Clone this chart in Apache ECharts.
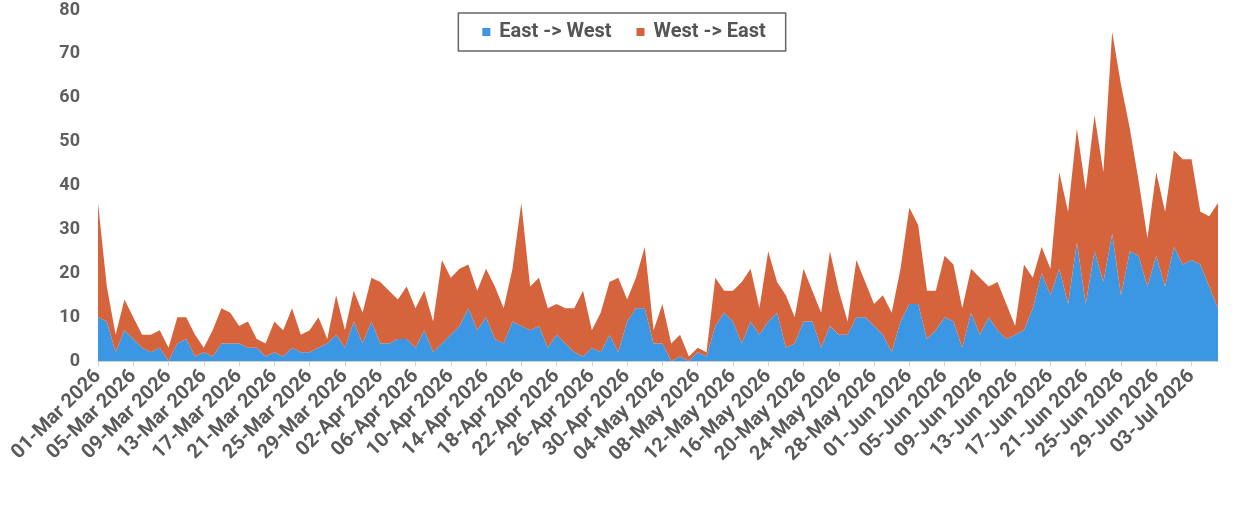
<!DOCTYPE html>
<html>
<head>
<meta charset="utf-8">
<script src="https://cdn.jsdelivr.net/npm/echarts@6/dist/echarts.min.js"></script>
<style>
html,body{margin:0;padding:0;background:#fff;}
#chart{width:1248px;height:508px;}
</style>
</head>
<body>
<div id="chart"></div>
<script>
// Daily dates 01-Mar-2026 .. 06-Jul-2026
const startDate = '2026-03-01';
const dayCount = 128;
const monthNames = ['Jan','Feb','Mar','Apr','May','Jun','Jul','Aug','Sep','Oct','Nov','Dec'];

const seriesNames = ['East -> West', 'West -> East'];

const eastToWest = [
 10, 9, 2, 7, 5, 3, 2, 3, 0, 4, 5, 1, 2, 1, 4, 4, 4, 3, 3, 1,
 2, 1, 3, 2, 2, 3, 4, 6, 3, 9, 4, 9, 4, 4, 5, 5, 3, 7, 2, 4,
 6, 8, 12, 7, 10, 5, 4, 9, 8, 7, 8, 3, 6, 4, 2, 1, 3, 2, 6, 2,
 9, 12, 12, 4, 4, 0, 1, 0, 2, 1, 8, 11, 9, 4, 9, 6, 9, 11, 3, 4,
 9, 9, 3, 8, 6, 6, 10, 10, 8, 6, 2, 9, 13, 13, 5, 7, 10, 9, 3, 11,
 6, 10, 7, 5, 6, 7, 12, 20, 15, 21, 13, 27, 13, 25, 18, 29, 15, 25, 24, 17,
 24, 17, 26, 22, 23, 22, 17, 12
];

const westToEast = [
 26, 8, 4, 7, 5, 3, 4, 4, 3, 6, 5, 5, 1, 6, 8, 7, 4, 6, 2, 3,
 7, 6, 9, 4, 5, 7, 1, 9, 4, 7, 7, 10, 14, 12, 9, 12, 9, 9, 7, 19,
 13, 13, 10, 9, 11, 12, 8, 12, 28, 10, 11, 9, 7, 8, 10, 15, 4, 9, 12, 17,
 5, 7, 14, 3, 9, 4, 5, 1, 1, 1, 11, 5, 7, 14, 12, 6, 16, 7, 12, 6,
 12, 7, 8, 17, 10, 3, 13, 8, 5, 9, 9, 12, 22, 18, 11, 9, 14, 13, 9, 10,
 13, 7, 11, 8, 2, 15, 7, 6, 6, 22, 21, 26, 26, 31, 25, 46, 48, 28, 17, 11,
 19, 17, 22, 24, 23, 12, 16, 24
];

const yTicks = { min: 0, max: 80, interval: 10 };

function buildCategories() {
  const out = [];
  const base = new Date(startDate + 'T00:00:00Z');
  for (let i = 0; i < dayCount; i++) {
    const d = new Date(base.getTime() + i * 86400000);
    const dd = String(d.getUTCDate()).padStart(2, '0');
    out.push(dd + '-' + monthNames[d.getUTCMonth()] + ' ' + d.getUTCFullYear());
  }
  return out;
}
const categories = buildCategories();

const colors = ['#3b97e3', '#d5643d'];
const chart = echarts.init(document.getElementById('chart'), null, {renderer: 'canvas'});
chart.setOption({
  animation: false,
  color: colors,
  legend: {
    data: seriesNames,
    top: 13,
    left: 'center',
    borderColor: '#666',
    borderWidth: 1.5,
    borderRadius: 0,
    padding: [9, 20, 9, 24],
    itemWidth: 8,
    itemHeight: 8,
    itemGap: 25,
    icon: 'rect',
    textStyle: { fontFamily: 'Roboto', fontWeight: 'bold', fontSize: 20, color: '#555', padding: [0, 0, 0, 4] }
  },
  grid: { left: 98, right: 30, top: 10, bottom: 147, containLabel: false },
  xAxis: {
    type: 'category',
    data: categories,
    boundaryGap: false,
    axisLine: { show: true, lineStyle: { color: '#cfcfcf', width: 1 } },
    axisTick: { show: true, interval: 3, length: 5, lineStyle: { color: '#cfcfcf' } },
    axisLabel: {
      interval: 3,
      rotate: 45,
      margin: 12,
      fontFamily: 'Roboto',
      fontWeight: 'bold',
      fontSize: 20,
      color: '#5a5a5a'
    },
    splitLine: { show: false }
  },
  yAxis: {
    type: 'value',
    min: yTicks.min,
    max: yTicks.max,
    interval: yTicks.interval,
    axisLine: { show: false },
    axisTick: { show: false },
    splitLine: { show: false },
    axisLabel: { fontFamily: 'Roboto', fontWeight: 'bold', fontSize: 18, color: '#5f5f5f', margin: 18 }
  },
  series: [
    {
      name: seriesNames[0], type: 'line', stack: 'total', data: eastToWest,
      showSymbol: false, symbol: 'none', lineStyle: { width: 0 },
      areaStyle: { color: colors[0], opacity: 1 }, emphasis: { disabled: true }
    },
    {
      name: seriesNames[1], type: 'line', stack: 'total', data: westToEast,
      showSymbol: false, symbol: 'none', lineStyle: { width: 0 },
      areaStyle: { color: colors[1], opacity: 1 }, emphasis: { disabled: true }
    }
  ]
});
</script>
</body>
</html>
